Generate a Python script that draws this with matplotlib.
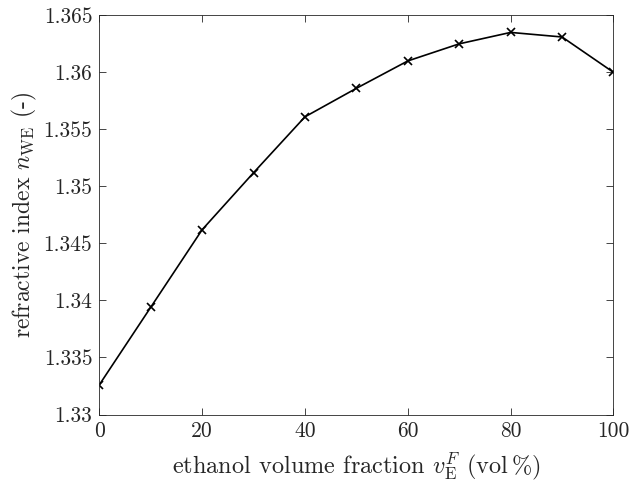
import matplotlib.pyplot as plt

# ethanol volume fraction (vol%) and refractive index
vol_frac = [0, 10, 20, 30, 40, 50, 60, 70, 80, 90, 100]
n_we = [1.3326, 1.3394, 1.3462, 1.3512, 1.3561, 1.3586, 1.3610, 1.3625, 1.3635, 1.3631, 1.3600]

x_ticks = [0, 20, 40, 60, 80, 100]
y_ticks = [1.33, 1.335, 1.34, 1.345, 1.35, 1.355, 1.36, 1.365]
y_ticklabels = ["1.33", "1.335", "1.34", "1.345", "1.35", "1.355", "1.36", "1.365"]

plt.rcParams['font.family'] = 'serif'
plt.rcParams['font.serif'] = ['cmr10']
plt.rcParams['mathtext.fontset'] = 'cm'
plt.rcParams['axes.unicode_minus'] = False

fig = plt.figure(figsize=(6.32, 4.83), dpi=100)
ax = fig.add_axes([0.1571, 0.1418, 0.8136, 0.8265])
ax.plot(vol_frac, n_we, color='black', linewidth=1.2, marker='x',
        markersize=5.5, markeredgewidth=1.2)

ax.set_xlim(0, 100)
ax.set_ylim(1.33, 1.365)
ax.set_xticks(x_ticks)
ax.set_xticklabels([str(t) for t in x_ticks])
ax.set_yticks(y_ticks)
ax.set_yticklabels(y_ticklabels)
ax.tick_params(direction='in', top=True, right=True, labelsize=15.5,
               length=5, width=0.6, pad=5, colors='#262626', labelcolor='#262626')
for s in ax.spines.values():
    s.set_linewidth(0.6)
    s.set_color('#262626')

ax.set_xlabel(r"ethanol volume fraction $v_\mathrm{E}^F$ (vol$\,$%)",
              fontsize=17.5, color='#262626', labelpad=7)
ax.set_ylabel(r"refractive index $n_\mathrm{WE}$ (-)", fontsize=17,
              color='#262626', labelpad=3)

plt.savefig("out.png", dpi=100)
